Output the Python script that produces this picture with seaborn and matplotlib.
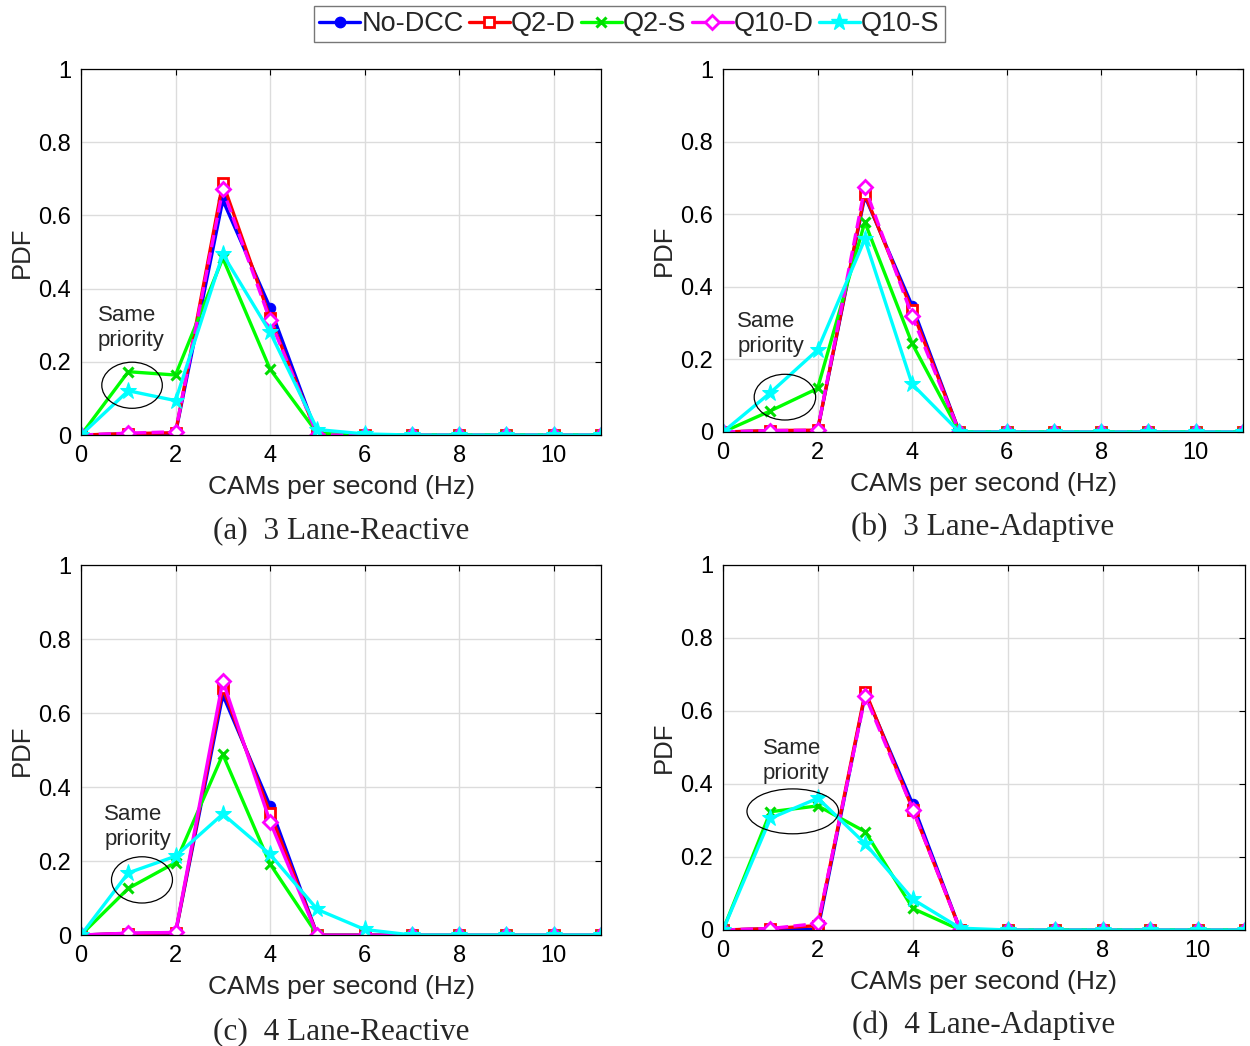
import numpy as np
import pandas as pd
import matplotlib
matplotlib.use("Agg")
import matplotlib.pyplot as plt
from matplotlib.patches import Ellipse
from matplotlib.lines import Line2D
import seaborn as sns

# CAM rate bins (Hz)
rate = list(range(0, 12))

series_names = ["No-DCC", "Q2-D", "Q2-S", "Q10-D", "Q10-S"]

# (a) 3 Lane-Reactive
a_nodcc = [0, 0.003, 0.005, 0.642, 0.348, 0, 0, 0, 0, 0, 0, 0]
a_q2d   = [0, 0.004, 0.006, 0.689, 0.320, 0, 0, 0, 0, 0, 0, 0]
a_q2s   = [0, 0.173, 0.164, 0.483, 0.180, 0.005, 0, 0, 0, 0, 0, 0]
a_q10d  = [0, 0.005, 0.009, 0.671, 0.314, 0, 0, 0, 0, 0, 0, 0]
a_q10s  = [0, 0.121, 0.094, 0.494, 0.281, 0.015, 0.003, 0, 0, 0, 0, 0]

# (b) 3 Lane-Adaptive
b_nodcc = [0, 0.003, 0.004, 0.650, 0.348, 0, 0, 0, 0, 0, 0, 0]
b_q2d   = [0, 0.004, 0.005, 0.655, 0.335, 0, 0, 0, 0, 0, 0, 0]
b_q2s   = [0, 0.058, 0.120, 0.578, 0.244, 0, 0, 0, 0, 0, 0, 0]
b_q10d  = [0, 0.004, 0.005, 0.674, 0.320, 0, 0, 0, 0, 0, 0, 0]
b_q10s  = [0, 0.108, 0.226, 0.531, 0.132, 0, 0, 0, 0, 0, 0, 0]

# (c) 4 Lane-Reactive
c_nodcc = [0, 0.004, 0.005, 0.649, 0.349, 0, 0, 0, 0, 0, 0, 0]
c_q2d   = [0, 0.004, 0.006, 0.667, 0.329, 0, 0, 0, 0, 0, 0, 0]
c_q2s   = [0, 0.126, 0.196, 0.488, 0.192, 0, 0, 0, 0, 0, 0, 0]
c_q10d  = [0, 0.005, 0.007, 0.687, 0.306, 0, 0, 0, 0, 0, 0, 0]
c_q10s  = [0, 0.168, 0.213, 0.327, 0.218, 0.069, 0.015, 0, 0, 0, 0, 0]

# (d) 4 Lane-Adaptive
d_nodcc = [0, 0.003, 0.002, 0.648, 0.344, 0, 0, 0, 0, 0, 0, 0]
d_q2d   = [0, 0.004, 0.012, 0.653, 0.330, 0, 0, 0, 0, 0, 0, 0]
d_q2s   = [0, 0.324, 0.340, 0.269, 0.059, 0, 0, 0, 0, 0, 0, 0]
d_q10d  = [0, 0.004, 0.018, 0.641, 0.330, 0, 0, 0, 0, 0, 0, 0]
d_q10s  = [0, 0.306, 0.361, 0.236, 0.084, 0.005, 0, 0, 0, 0, 0, 0]

captions = ["(a)  3 Lane-Reactive", "(b)  3 Lane-Adaptive",
            "(c)  4 Lane-Reactive", "(d)  4 Lane-Adaptive"]

panels = [
    [a_nodcc, a_q2d, a_q2s, a_q10d, a_q10s],
    [b_nodcc, b_q2d, b_q2s, b_q10d, b_q10s],
    [c_nodcc, c_q2d, c_q2s, c_q10d, c_q10s],
    [d_nodcc, d_q2d, d_q2s, d_q10d, d_q10s],
]

# annotation: text block anchor (left x, centre y), ellipse center/width/height
notes = [
    dict(tx=0.36, ty=0.292, cx=1.08, cy=0.136, w=1.28, h=0.126),
    dict(tx=0.30, ty=0.270, cx=1.31, cy=0.096, w=1.30, h=0.126),
    dict(tx=0.49, ty=0.292, cx=1.29, cy=0.149, w=1.29, h=0.125),
    dict(tx=0.84, ty=0.462, cx=1.47, cy=0.325, w=1.93, h=0.123),
]

# axes rectangles in figure fractions
rects = [
    [0.0648, 0.5841, 0.4160, 0.3499],
    [0.5784, 0.5870, 0.4160, 0.3470],
    [0.0648, 0.1061, 0.4160, 0.3537],
    [0.5784, 0.1109, 0.4176, 0.3490],
]

styles = {
    "No-DCC": dict(color="#0000ff", marker="o", markersize=7.5, markerfacecolor="#0000ff",
                   markeredgecolor="#0000ff", linestyle="-"),
    "Q2-D": dict(color="#ff0000", marker="s", markersize=7, markerfacecolor="white",
                 markeredgecolor="#ff0000", markeredgewidth=2, linestyle="-"),
    "Q2-S": dict(color="#00ff00", marker="x", markersize=7, markeredgecolor="#00dd00",
                 markeredgewidth=2.2, linestyle="-"),
    "Q10-D": dict(color="#ff00ff", marker="D", markersize=7, markerfacecolor="white",
                  markeredgecolor="#ff00ff", markeredgewidth=2, linestyle="--"),
    "Q10-S": dict(color="#00ffff", marker="*", markersize=12.5, markerfacecolor="#00ffff",
                  markeredgecolor="#00ffff", linestyle="-"),
}

sns.set_style("white")
plt.rcParams["font.family"] = ["Liberation Sans", "DejaVu Sans"]

fig = plt.figure(figsize=(12.5, 10.46), dpi=100)

for i, (rect, series, cap, nt) in enumerate(zip(rects, panels, captions, notes)):
    ax = fig.add_axes(rect)
    for name, vals in zip(series_names, series):
        st = dict(styles[name])
        if name == "Q10-D" and i == 2:
            st["linestyle"] = "-"
        df = pd.DataFrame({"rate": rate, "pdf": vals})
        sns.lineplot(data=df, x="rate", y="pdf", ax=ax, linewidth=2.4,
                     label=name, legend=False, **st)
    ax.set_xlim(0, 11)
    ax.set_ylim(0, 1)
    ax.set_xticks([0, 2, 4, 6, 8, 10])
    ax.set_xticklabels(["0", "2", "4", "6", "8", "10"])
    ax.set_yticks([0, 0.2, 0.4, 0.6, 0.8, 1.0])
    ax.set_yticklabels(["0", "0.2", "0.4", "0.6", "0.8", "1"])
    ax.grid(True, color="#dcdcdc", linewidth=1.0)
    ax.set_axisbelow(True)
    for sp in ax.spines.values():
        sp.set_visible(True)
        sp.set_color("black")
        sp.set_linewidth(0.9)
    ax.tick_params(axis="both", direction="in", length=4, labelsize=17,
                   colors="black", pad=7, top=True, right=True,
                   labeltop=False, labelright=False)
    ax.set_xlabel("CAMs per second (Hz)", fontsize=19, labelpad=6)
    ax.set_ylabel("PDF", fontsize=18.5, labelpad=3)
    ax.text(nt["tx"], nt["ty"], "Same\npriority", fontsize=16, ha="left",
            va="center", linespacing=1.25)
    ax.add_patch(Ellipse((nt["cx"], nt["cy"]), nt["w"], nt["h"], fill=False,
                         edgecolor="black", linewidth=0.9, zorder=5))
    ax.text(0.5, -0.262, cap, transform=ax.transAxes, ha="center", va="center",
            fontsize=22.5, family=["Liberation Serif", "DejaVu Serif"])

handles = [Line2D([0], [0], linewidth=2.4, **styles[n]) for n in series_names]
for h in handles:
    h.set_linestyle("-")
leg = fig.legend(handles, series_names, loc="center", bbox_to_anchor=(0.5036, 0.977),
                 ncol=5, fontsize=19.5, frameon=True, fancybox=False,
                 handlelength=1.5, handletextpad=0.05, columnspacing=0.2,
                 borderpad=0.2, borderaxespad=0)
leg.get_frame().set_edgecolor("#555555")
leg.get_frame().set_linewidth(1.0)

fig.savefig("out.png", dpi=100, facecolor="white")
